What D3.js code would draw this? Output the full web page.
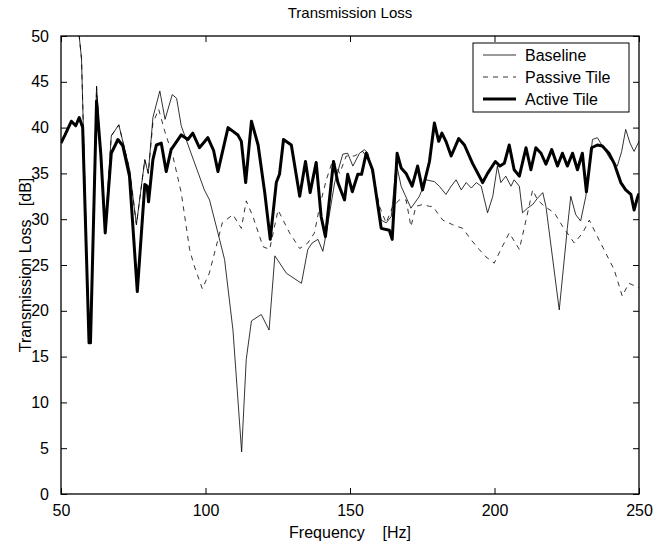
<!DOCTYPE html>
<html>
<head>
<meta charset="utf-8">
<script src="https://cdn.jsdelivr.net/npm/d3@7"></script>
<style>
  html, body { margin: 0; padding: 0; background: #fff; }
  svg { display: block; }
  text { font-family: "Liberation Sans", Arial, Helvetica, sans-serif; fill: #000; }
</style>
</head>
<body>
<svg id="chart" width="655" height="545"></svg>
<script>
// ---------------- data ----------------
const xTicks = [50, 100, 150, 200, 250];
const yTicks = [0, 5, 10, 15, 20, 25, 30, 35, 40, 45, 50];
const seriesNames = ["Baseline", "Passive Tile", "Active Tile"];

const baselineFreq = [50, 52, 54, 55.5, 56.3, 57.1, 59.7, 60.2, 62.3, 65.3, 67.4, 70.0, 73.7, 76.1, 79.0, 80.2, 81.8, 84.2, 86.0, 88.5, 90.0, 91.6, 95.0, 99.6, 101.4, 104.3, 106.6, 109.5, 112.5, 114.1, 115.9, 119.3, 122.0, 124.0, 128.0, 133.2, 135.4, 136.9, 138.9, 140.6, 141.8, 144.7, 147.5, 149.2, 151.0, 153.3, 155.0, 156.2, 158.5, 160.8, 162.5, 164.3, 166.0, 167.7, 171.1, 174.0, 176.3, 179.2, 180.9, 183.2, 185.0, 186.7, 188.5, 190.2, 192.0, 193.7, 195.4, 197.6, 199.4, 201.0, 202.2, 203.9, 205.7, 206.8, 208.6, 209.7, 211.4, 213.2, 214.9, 216.7, 217.8, 222.4, 225.2, 226.4, 228.1, 229.8, 231.6, 233.9, 235.6, 237.3, 240.2, 242.5, 244.0, 245.4, 246.9, 248.3, 250];
const baselineVals = [62, 58, 55, 52, 50, 47.5, 16.8, 16.8, 44.5, 28.8, 39.1, 40.3, 35.5, 29.4, 36.5, 35.0, 41.1, 44.0, 40.9, 43.6, 43.2, 40.2, 37.2, 33.2, 32.1, 28.5, 25.6, 17.9, 4.6, 14.7, 18.9, 19.6, 17.9, 26.0, 24.1, 23.0, 26.7, 27.4, 27.8, 26.5, 28.5, 34.0, 37.1, 37.2, 35.8, 37.2, 37.6, 37.2, 34.0, 29.9, 29.6, 30.3, 36.1, 33.6, 31.2, 32.5, 34.3, 34.1, 33.6, 32.7, 33.6, 34.3, 33.2, 34.0, 33.4, 34.0, 33.6, 30.7, 32.5, 35.8, 34.0, 34.7, 33.6, 34.3, 33.6, 30.7, 31.2, 31.6, 32.3, 32.9, 31.4, 20.1, 29.0, 32.5, 30.5, 29.8, 32.5, 38.7, 38.9, 38.0, 36.5, 35.8, 37.4, 39.8, 38.3, 37.4, 38.5];

const passiveFreq = [50, 52, 54, 55.5, 56.3, 57.1, 59.7, 60.2, 62.3, 65.3, 67.4, 70.0, 73.7, 76.1, 79.0, 80.2, 81.8, 83.8, 86.0, 88.7, 91.6, 94.5, 96.0, 98.9, 101.3, 103.6, 105.8, 109.5, 112.4, 114.1, 116.4, 119.9, 122.2, 125.1, 129.1, 132.6, 135.4, 137.7, 139.5, 141.8, 144.1, 146.4, 148.7, 151.5, 154.4, 157.3, 160.2, 162.5, 164.8, 167.1, 169.4, 171.1, 172.8, 175.1, 177.5, 178.6, 182.1, 185.5, 189.0, 191.8, 194.7, 197.0, 199.9, 202.2, 205.1, 208.6, 210.9, 213.2, 214.9, 217.3, 220.7, 223.6, 227.6, 230.5, 232.8, 235.6, 238.5, 241.4, 244.2, 246.5, 248.0, 250];
const passiveVals = [62, 58, 55, 52, 50, 47.5, 16.8, 16.8, 44.5, 28.8, 39.1, 40.3, 35.5, 29.4, 36.5, 35.0, 40.5, 42.0, 39.5, 36.9, 32.9, 26.7, 25.0, 22.4, 24.1, 26.9, 29.6, 30.5, 29.0, 32.0, 30.3, 27.0, 26.7, 31.0, 28.5, 26.8, 27.4, 28.5, 31.4, 34.3, 36.5, 35.0, 36.9, 36.9, 37.4, 36.1, 31.4, 29.6, 31.4, 32.1, 32.1, 29.2, 31.4, 31.6, 31.4, 31.4, 29.9, 29.4, 29.0, 27.8, 26.7, 25.9, 25.2, 26.7, 28.5, 26.7, 29.9, 33.2, 32.1, 31.4, 30.7, 29.2, 27.4, 28.5, 29.9, 28.1, 26.3, 24.5, 21.6, 23.0, 22.8, 22.5];

const activeFreq = [50, 51.4, 53.6, 55.1, 56.3, 57.5, 59.7, 60.2, 62.3, 63.8, 65.3, 67.4, 69.7, 71.4, 73.7, 76.4, 79.0, 79.8, 80.3, 81.8, 83.0, 84.7, 86.4, 88.1, 91.6, 93.9, 95.6, 97.9, 100.8, 102.8, 104.3, 107.8, 111.2, 112.4, 113.9, 115.9, 118.2, 120.5, 122.4, 124.5, 125.6, 127.0, 129.7, 132.6, 134.6, 136.2, 138.3, 140.0, 141.5, 144.3, 145.8, 148.1, 149.2, 150.8, 152.7, 154.0, 155.6, 157.8, 160.8, 163.6, 164.6, 166.3, 167.7, 169.4, 171.5, 173.4, 175.1, 177.5, 179.2, 180.7, 181.8, 183.2, 185.0, 187.6, 189.6, 192.4, 195.9, 197.6, 200.3, 201.9, 203.4, 205.1, 206.8, 208.6, 210.9, 212.6, 214.3, 216.1, 217.8, 219.8, 221.8, 223.5, 225.2, 227.0, 228.7, 230.4, 231.8, 233.6, 235.6, 237.3, 239.6, 241.4, 243.7, 245.4, 247.2, 248.3, 249.4, 250];
const activeVals = [38.3, 39.2, 40.7, 40.2, 41.1, 40.0, 16.5, 16.5, 42.9, 37.0, 28.5, 37.2, 38.7, 38.0, 34.7, 22.1, 33.8, 33.6, 31.9, 36.5, 38.1, 38.3, 35.2, 37.6, 39.2, 38.7, 39.4, 37.8, 38.9, 37.5, 35.2, 40.0, 39.2, 38.5, 34.0, 40.7, 38.1, 32.9, 27.8, 34.0, 34.9, 38.7, 38.1, 32.5, 36.3, 32.9, 36.2, 30.3, 28.1, 36.3, 34.0, 32.1, 34.9, 33.0, 34.9, 34.9, 37.2, 35.4, 29.0, 28.8, 27.8, 37.2, 35.6, 35.0, 33.6, 35.8, 33.2, 36.3, 40.5, 38.5, 39.4, 38.5, 36.9, 38.8, 38.1, 36.1, 34.0, 35.0, 36.3, 35.8, 36.1, 38.1, 35.4, 34.7, 37.8, 35.4, 37.8, 37.2, 36.0, 37.6, 35.8, 37.2, 35.8, 37.2, 35.4, 37.2, 33.0, 37.8, 38.1, 38.0, 37.2, 36.1, 34.0, 33.2, 32.7, 31.0, 32.3, 32.8];

// ---------------- layout ----------------
const W = 655, H = 545;
const M = { left: 61, right: 16, top: 36, bottom: 51 };
const pw = W - M.left - M.right, ph = H - M.top - M.bottom;

const svg = d3.select("#chart");
const x = d3.scaleLinear().domain([50, 250]).range([M.left, M.left + pw]);
const y = d3.scaleLinear().domain([0, 50]).range([M.top + ph, M.top]);

svg.append("defs").append("clipPath").attr("id", "plotclip")
  .append("rect").attr("x", M.left).attr("y", M.top).attr("width", pw).attr("height", ph);

const styles = [
  { w: 0.8, dash: null },
  { w: 0.8, dash: "5,5" },
  { w: 3, dash: null }
];
const series = [
  d3.zip(baselineFreq, baselineVals),
  d3.zip(passiveFreq, passiveVals),
  d3.zip(activeFreq, activeVals)
];

const line = d3.line().x(d => x(d[0])).y(d => y(d[1]));
const g = svg.append("g").attr("clip-path", "url(#plotclip)");
[1, 0, 2].forEach(i => {
  g.append("path").datum(series[i])
    .attr("d", line)
    .attr("fill", "none")
    .attr("stroke", "#000")
    .attr("stroke-width", styles[i].w)
    .attr("stroke-linejoin", "round")
    .attr("stroke-dasharray", styles[i].dash);
});

// ---------------- axes (MATLAB style: inward ticks, box) ----------------
const tl = 6;
const fs = 16;
const bottomAxis = d3.axisBottom(x).tickValues(xTicks).tickSizeInner(-tl).tickSizeOuter(0).tickPadding(tl + 5);
const topAxis = d3.axisTop(x).tickValues(xTicks).tickSizeInner(-tl).tickSizeOuter(0).tickFormat("");
const leftAxis = d3.axisLeft(y).tickValues(yTicks).tickSizeInner(-tl).tickSizeOuter(0).tickPadding(tl + 6);
const rightAxis = d3.axisRight(y).tickValues(yTicks).tickSizeInner(-tl).tickSizeOuter(0).tickFormat("");

function styleAxis(sel) {
  sel.select(".domain").remove();
  sel.selectAll(".tick line").attr("stroke", "#000").attr("stroke-width", 1);
  sel.selectAll(".tick text").style("font-size", fs + "px").style("font-family", '"Liberation Sans", Arial, sans-serif').attr("fill", "#000");
}
svg.append("g").attr("transform", `translate(0,${M.top + ph})`).call(bottomAxis).call(styleAxis);
svg.append("g").attr("transform", `translate(0,${M.top})`).call(topAxis).call(styleAxis);
svg.append("g").attr("transform", `translate(${M.left},0)`).call(leftAxis).call(styleAxis);
svg.append("g").attr("transform", `translate(${M.left + pw},0)`).call(rightAxis).call(styleAxis);

svg.append("rect").attr("x", M.left).attr("y", M.top).attr("width", pw).attr("height", ph)
  .attr("fill", "none").attr("stroke", "#000").attr("stroke-width", 1.3);

// ---------------- labels ----------------
svg.append("text").attr("x", M.left + pw / 2).attr("y", 18).attr("text-anchor", "middle")
  .style("font-size", "15px").text("Transmission Loss");
svg.append("text").attr("x", M.left + pw / 2).attr("y", 538).attr("text-anchor", "middle")
  .style("font-size", fs + "px").attr("xml:space", "preserve").style("white-space", "pre")
  .text("Frequency    [Hz]");
svg.append("text").attr("transform", `translate(31,${M.top + ph / 2}) rotate(-90)`).attr("text-anchor", "middle")
  .style("font-size", fs + "px").style("white-space", "pre")
  .text("Transmission Loss   [dB]");

// ---------------- legend ----------------
const lg = svg.append("g");
const lx = 473, ly = 43, lw = 156, lh = 69;
lg.append("rect").attr("x", lx).attr("y", ly).attr("width", lw).attr("height", lh)
  .attr("fill", "#fff").attr("stroke", "#000").attr("stroke-width", 1);
const rowY = d3.scalePoint().domain(seriesNames).range([ly + 12, ly + 56]);
seriesNames.forEach((name, i) => {
  const yy = rowY(name);
  lg.append("line").attr("x1", lx + 10).attr("x2", lx + 43).attr("y1", yy).attr("y2", yy)
    .attr("stroke", "#000").attr("stroke-width", styles[i].w).attr("stroke-dasharray", styles[i].dash);
  lg.append("text").attr("x", lx + 52).attr("y", yy + 5.5).style("font-size", fs + "px").text(name);
});
</script>
</body>
</html>
